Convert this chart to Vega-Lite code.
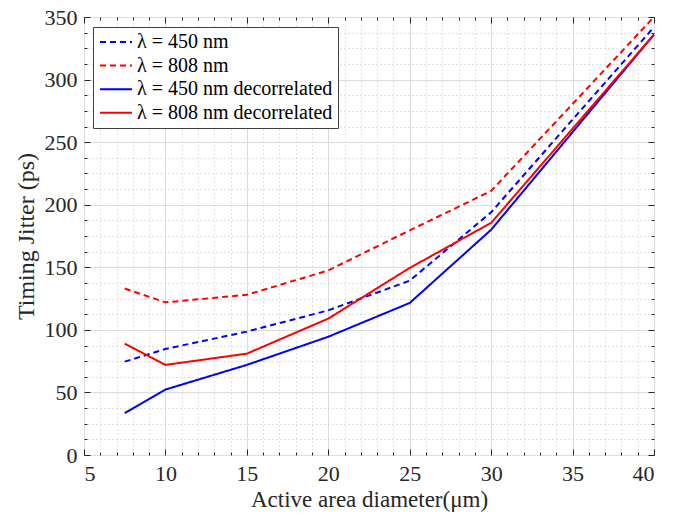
{
  "$schema": "https://vega.github.io/schema/vega-lite/v6.json",
  "width": 570,
  "height": 438,
  "autosize": "none",
  "padding": {"left": 84, "top": 17, "right": 27, "bottom": 62},
  "background": "white",
  "config": {
    "view": {"stroke": "#262626", "strokeWidth": 1},
    "font": "Liberation Serif",
    "axis": {"domain": false, "tickColor": "#262626", "labelColor": "#262626", "titleColor": "#262626", "labelFont": "Liberation Serif", "titleFont": "Liberation Serif", "titleFontWeight": "normal"},
    "legend": {
      "orient": "none", "legendX": 9, "legendY": 10,
      "fillColor": "white", "strokeColor": "#404040", "padding": 5,
      "symbolType": "M-2,0H2", "symbolSize": 256, "symbolStrokeWidth": 2, "symbolOffset": 8,
      "labelFont": "Liberation Serif", "labelFontSize": 20, "labelColor": "black", "labelLimit": 400,
      "labelOffset": 11, "rowPadding": 3.6, "title": null
    }
  },
  "data": {"values": [
    {"series": "λ = 450 nm", "d": 7.5, "j": 74.6},
    {"series": "λ = 450 nm", "d": 10, "j": 84.7},
    {"series": "λ = 450 nm", "d": 15, "j": 98.6},
    {"series": "λ = 450 nm", "d": 20, "j": 115.6},
    {"series": "λ = 450 nm", "d": 25, "j": 139.3},
    {"series": "λ = 450 nm", "d": 30, "j": 194},
    {"series": "λ = 450 nm", "d": 40, "j": 342},
    {"series": "λ = 808 nm", "d": 7.5, "j": 133},
    {"series": "λ = 808 nm", "d": 10, "j": 122},
    {"series": "λ = 808 nm", "d": 15, "j": 128},
    {"series": "λ = 808 nm", "d": 20, "j": 147.5},
    {"series": "λ = 808 nm", "d": 25, "j": 179.5},
    {"series": "λ = 808 nm", "d": 30, "j": 211},
    {"series": "λ = 808 nm", "d": 40, "j": 350},
    {"series": "λ = 450 nm decorrelated", "d": 7.5, "j": 33.4},
    {"series": "λ = 450 nm decorrelated", "d": 10, "j": 52.3},
    {"series": "λ = 450 nm decorrelated", "d": 15, "j": 72},
    {"series": "λ = 450 nm decorrelated", "d": 20, "j": 94.5},
    {"series": "λ = 450 nm decorrelated", "d": 25, "j": 121.5},
    {"series": "λ = 450 nm decorrelated", "d": 30, "j": 180},
    {"series": "λ = 450 nm decorrelated", "d": 40, "j": 336},
    {"series": "λ = 808 nm decorrelated", "d": 7.5, "j": 89},
    {"series": "λ = 808 nm decorrelated", "d": 10, "j": 72},
    {"series": "λ = 808 nm decorrelated", "d": 15, "j": 81},
    {"series": "λ = 808 nm decorrelated", "d": 20, "j": 109},
    {"series": "λ = 808 nm decorrelated", "d": 25, "j": 149.5},
    {"series": "λ = 808 nm decorrelated", "d": 30, "j": 185.5},
    {"series": "λ = 808 nm decorrelated", "d": 40, "j": 336}
  ]},
  "layer": [
    {
      "mark": {"type": "point", "opacity": 0, "size": 0},
      "encoding": {
        "x": {"field": "d", "type": "quantitative", "scale": {"domain": [5, 40], "nice": false, "zero": false},
          "axis": {"orient": "bottom", "values": [6,7,8,9,11,12,13,14,16,17,18,19,21,22,23,24,26,27,28,29,31,32,33,34,36,37,38,39],
            "grid": true, "gridColor": "#c4c4c4", "gridDash": [1, 3], "gridWidth": 1, "ticks": true, "tickSize": -3, "labels": false, "title": null}},
        "y": {"field": "j", "type": "quantitative", "scale": {"domain": [0, 350], "nice": false, "zero": true},
          "axis": {"orient": "left", "values": [12.5,25,37.5,62.5,75,87.5,112.5,125,137.5,162.5,175,187.5,212.5,225,237.5,262.5,275,287.5,312.5,325,337.5],
            "grid": true, "gridColor": "#c4c4c4", "gridDash": [1, 3], "gridWidth": 1, "ticks": true, "tickSize": -3, "labels": false, "title": null}}
      }
    },
    {
      "mark": {"type": "point", "opacity": 0, "size": 0},
      "encoding": {
        "x": {"field": "d", "type": "quantitative",
          "axis": {"orient": "bottom", "values": [5,10,15,20,25,30,35,40], "grid": true, "gridColor": "#dcdcdc", "gridWidth": 1, "ticks": true, "tickSize": -6, "labels": false, "title": null}},
        "y": {"field": "j", "type": "quantitative",
          "axis": {"orient": "left", "values": [0,50,100,150,200,250,300,350], "grid": true, "gridColor": "#dcdcdc", "gridWidth": 1, "ticks": true, "tickSize": -6, "labels": false, "title": null}}
      }
    },
    {
      "mark": {"type": "point", "opacity": 0, "size": 0},
      "encoding": {
        "x": {"field": "d", "type": "quantitative",
          "axis": {"orient": "top", "values": [6,7,8,9,11,12,13,14,16,17,18,19,21,22,23,24,26,27,28,29,31,32,33,34,36,37,38,39], "grid": false, "ticks": true, "tickSize": -3, "labels": false, "title": null}},
        "y": {"field": "j", "type": "quantitative",
          "axis": {"orient": "right", "values": [12.5,25,37.5,62.5,75,87.5,112.5,125,137.5,162.5,175,187.5,212.5,225,237.5,262.5,275,287.5,312.5,325,337.5], "grid": false, "ticks": true, "tickSize": -3, "labels": false, "title": null}}
      }
    },
    {
      "mark": {"type": "point", "opacity": 0, "size": 0},
      "encoding": {
        "x": {"field": "d", "type": "quantitative",
          "axis": {"orient": "top", "values": [5,10,15,20,25,30,35,40], "grid": false, "ticks": true, "tickSize": -6, "labels": false, "title": null}},
        "y": {"field": "j", "type": "quantitative",
          "axis": {"orient": "right", "values": [0,50,100,150,200,250,300,350], "grid": false, "ticks": true, "tickSize": -6, "labels": false, "title": null}}
      }
    },
    {
      "mark": {"type": "line", "strokeWidth": 2},
      "encoding": {
        "x": {"field": "d", "type": "quantitative",
          "axis": {"orient": "bottom", "values": [5,10,15,20,25,30,35,40], "grid": false, "ticks": false, "labelPadding": 8, "labelFontSize": 22,
            "title": "Active area diameter(μm)", "titleFontSize": 23, "titleY": 51, "titleBaseline": "alphabetic"}},
        "y": {"field": "j", "type": "quantitative",
          "axis": {"orient": "left", "values": [0,50,100,150,200,250,300,350], "grid": false, "ticks": false, "labelPadding": 7, "labelFontSize": 22,
            "title": "Timing Jitter (ps)", "titleFontSize": 24, "titleX": -51, "titleY": 219, "titleAngle": -90, "titleAlign": "center", "titleBaseline": "alphabetic"}},
        "color": {"field": "series", "type": "nominal",
          "scale": {"domain": ["λ = 450 nm", "λ = 808 nm", "λ = 450 nm decorrelated", "λ = 808 nm decorrelated"], "range": ["#0000ff", "#ff0000", "#0000ff", "#ff0000"]},
          "legend": {"title": null}},
        "strokeDash": {"field": "series", "type": "nominal",
          "scale": {"domain": ["λ = 450 nm", "λ = 808 nm", "λ = 450 nm decorrelated", "λ = 808 nm decorrelated"], "range": [[6, 4], [6, 4], [1, 0], [1, 0]]},
          "legend": {"title": null}}
      }
    }
  ],
  "resolve": {"axis": {"x": "independent", "y": "independent"}}
}
